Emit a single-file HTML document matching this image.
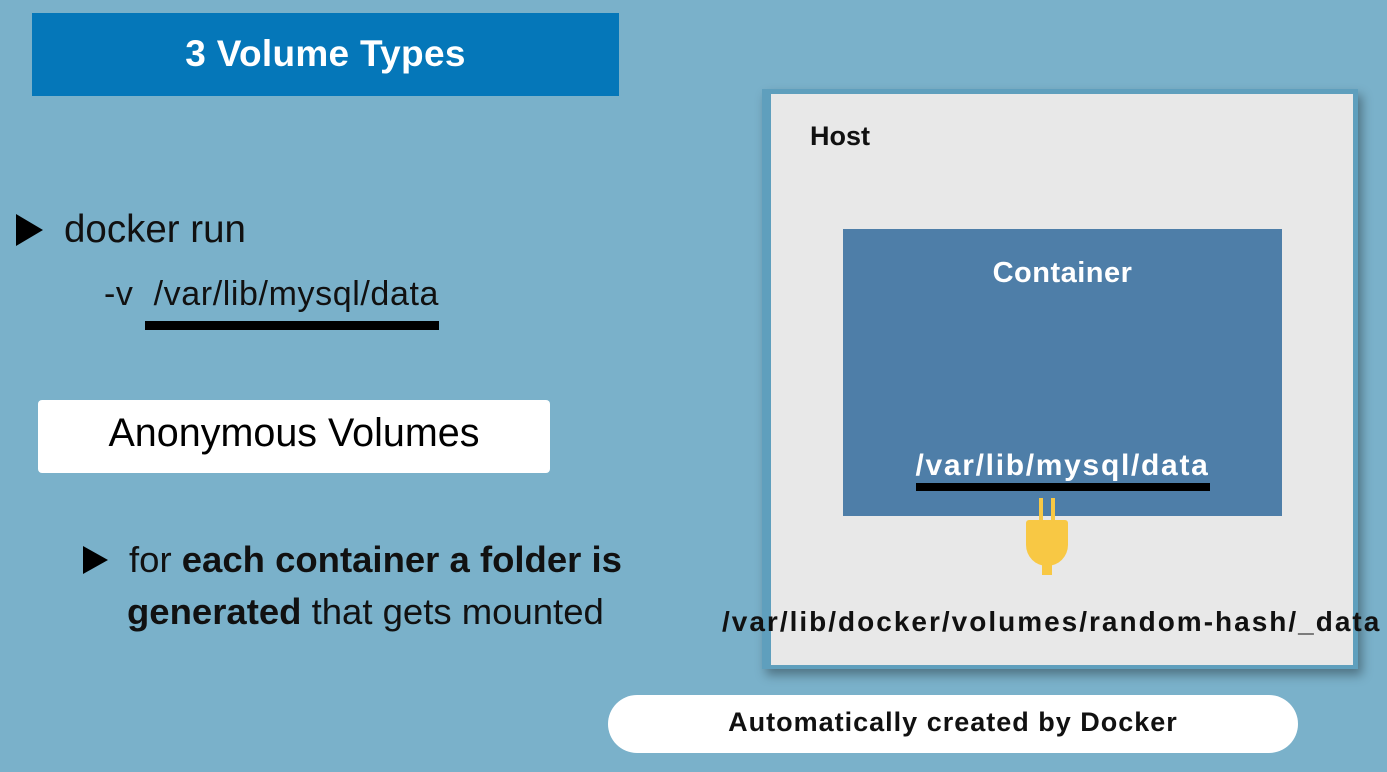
<!DOCTYPE html>
<html><head><style>
body{margin:0;width:1387px;height:772px;background:#7ab1ca;position:relative;overflow:hidden;font-family:"Liberation Sans",sans-serif}
.a{position:absolute}
</style></head><body>
<div class="a" style="left:32px;top:13px;width:587px;height:83px;background:#0577b9"></div>
<div class="a" style="left:32px;top:33px;width:587px;text-align:center;color:#fff;font-weight:bold;font-size:37px;letter-spacing:0.3px">3 Volume Types</div>

<div class="a" style="left:16px;top:214px;width:0;height:0;border-left:27px solid #000;border-top:16px solid transparent;border-bottom:16px solid transparent"></div>
<div class="a" style="left:64px;top:208px;font-size:38.5px;color:#111">docker run</div>
<div class="a" style="left:104px;top:275px;font-size:34px;color:#111;letter-spacing:0.6px">-v &nbsp;/var/lib/mysql/data</div>
<div class="a" style="left:145px;top:321px;width:294px;height:9px;background:#000"></div>

<div class="a" style="left:38px;top:400px;width:512px;height:73px;background:#fff;border-radius:4px"></div>
<div class="a" style="left:38px;top:411px;width:512px;text-align:center;font-size:39.5px;color:#000">Anonymous Volumes</div>

<div class="a" style="left:83px;top:546px;width:0;height:0;border-left:25px solid #000;border-top:14px solid transparent;border-bottom:14px solid transparent"></div>
<div class="a" style="left:129px;top:534px;font-size:36.5px;color:#111;line-height:52px">for <b>each container a folder is</b><br><span style="margin-left:-2px"><b>generated</b> that gets mounted</span></div>

<div class="a" style="left:762px;top:89px;width:596px;height:580px;background:#5f9fbd;box-shadow:4px 6px 10px rgba(0,0,0,.35)"></div>
<div class="a" style="left:771px;top:94px;width:582px;height:571px;background:#e8e8e8"></div>
<div class="a" style="left:810px;top:121px;font-size:27px;font-weight:bold;color:#111">Host</div>
<div class="a" style="left:843px;top:229px;width:439px;height:287px;background:#4e7ea8"></div>
<div class="a" style="left:843px;top:257px;width:439px;text-align:center;color:#fff;font-weight:bold;font-size:29px;letter-spacing:0.5px">Container</div>
<div class="a" style="left:843px;top:449px;width:439px;text-align:center;color:#fff;font-weight:bold;font-size:30px;letter-spacing:1.7px">/var/lib/mysql/data</div>
<div class="a" style="left:916px;top:483px;width:294px;height:8px;background:#000"></div>
<div class="a" style="left:1039px;top:498px;width:4px;height:26px;background:#f8c844"></div>
<div class="a" style="left:1051px;top:498px;width:4px;height:26px;background:#f8c844"></div>
<div class="a" style="left:1026px;top:520px;width:42px;height:46px;background:#f8c844;border-radius:3px 3px 21px 21px"></div>
<div class="a" style="left:1042px;top:562px;width:10px;height:13px;background:#f8c844"></div>
<div class="a" style="left:722px;top:606px;font-size:28px;font-weight:bold;color:#111;white-space:nowrap;letter-spacing:2px">/var/lib/docker/volumes/random-hash/_data</div>

<div class="a" style="left:608px;top:695px;width:690px;height:58px;background:#fff;border-radius:29px"></div>
<div class="a" style="left:608px;top:707px;width:690px;text-align:center;font-size:27px;font-weight:bold;color:#111;letter-spacing:1px">Automatically created by Docker</div>
</body></html>
